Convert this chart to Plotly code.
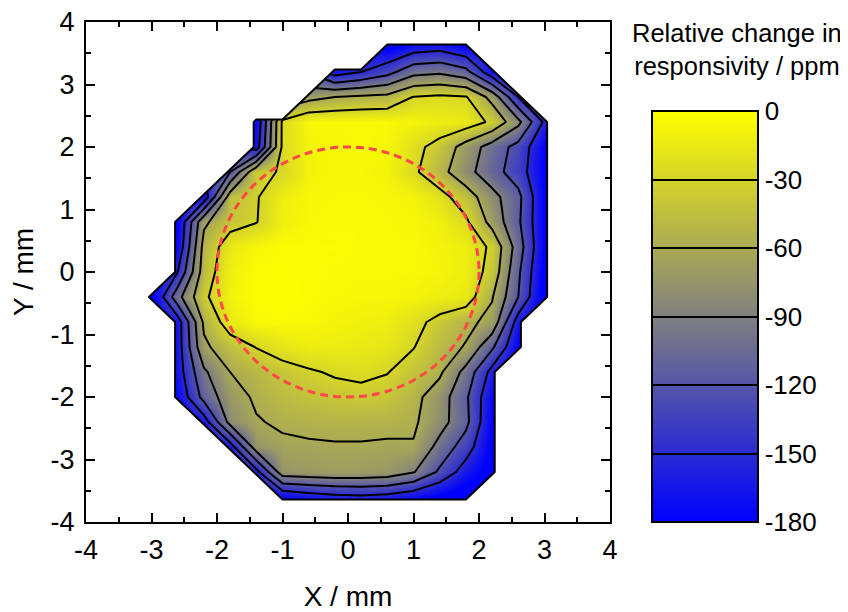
import numpy as np
import plotly.graph_objects as go

# measurement grid (mm)
x_mm = [-3.0, -2.6, -2.2, -1.8, -1.4, -1.0, -0.6, -0.2, 0.2, 0.6, 1.0, 1.4, 1.8, 2.2, 2.6, 3.0]
y_mm = [-3.6, -3.2, -2.8, -2.4, -2.0, -1.6, -1.2, -0.8, -0.4, 0.0, 0.4, 0.8, 1.2, 1.6, 2.0, 2.4, 2.8, 3.2, 3.6]

N = None  # no measurement
# relative change in responsivity / ppm, one row per y value (bottom to top)
z_ppm = [
    [N, N, N, N, N, -175, -165, -158, -155, -160, -170, -185, -195, N, N, N],            # y=-3.6
    [N, N, N, N, -160, -74, -71, -69, -70, -72, -88, -125, -165, -190, N, N],            # y=-3.2
    [N, N, N, -165, -75, -65, -63, -62, -62, -63, -62, -100, -135, -185, N, N],          # y=-2.8
    [N, N, -165, -80, -62, -56, -54, -53, -53, -54, -56, -78, -112, -180, N, N],         # y=-2.4
    [N, -175, -110, -72, -56, -48, -43, -40, -38, -40, -52, -75, -115, -175, N, N],      # y=-2.0
    [N, -165, -95, -60, -50, -40, -33, -27, -24, -29, -42, -55, -100, -160, N, N],       # y=-1.6
    [N, -165, -65, -45, -29, -18, -12, -13, -15, -18, -29, -48, -62, -115, -180, N],     # y=-1.2
    [N, -165, -55, -15, -5, -4, -5, -8, -10, -12, -22, -38, -53, -68, -165, N],          # y=-0.8
    [-190, -100, -35, -8, -2, -1, -3, -5, -6, -6, -8, -12, -15, -58, -120, -190],        # y=-0.4
    [N, -150, -45, -10, -3, -2, -3, -4, -5, -5, -5, -7, -12, -40, -115, -185],           # y= 0.0
    [N, -175, -50, -15, -6, -3, -3, -3, -4, -5, -5, -8, -12, -35, -105, -180],           # y= 0.4
    [N, -180, -65, -40, -31, -10, -5, -4, -4, -5, -6, -10, -25, -70, -115, -180],        # y= 0.8
    [N, N, -170, -45, -32, -12, -6, -5, -5, -6, -8, -20, -45, -80, -112, -180],          # y= 1.2
    [N, N, N, -120, -36, -28, -8, -6, -6, -8, -25, -50, -80, -108, -135, -180],          # y= 1.6
    [N, N, N, N, -165, -25, -8, -6, -5, -6, -22, -40, -72, -103, -130, -178],            # y= 2.0
    [N, N, N, N, -175, -25, -5, -5, -5, -5, -8, -12, -15, -35, -82, -155],               # y= 2.4
    [N, N, N, N, N, N, -70, -60, -55, -52, -29, -25, -28, -70, -150, N],                 # y= 2.8
    [N, N, N, N, N, N, N, -165, -150, -130, -100, -95, -110, -170, N, N],                # y= 3.2
    [N, N, N, N, N, N, N, N, N, -185, -165, -160, -175, N, N, N],                        # y= 3.6
]

cbar_ticks = [0, -30, -60, -90, -120, -150, -180]
level_start, level_end, level_step = -150, -30, 30
z_min, z_max = -180, 0
circle_radius_mm = 2.0
axis_ticks = [-4, -3, -2, -1, 0, 1, 2, 3, 4]

FONT = "Liberation Sans, Arial, sans-serif"

# pad grid with one empty ring so the outline of the measured area closes
dx = x_mm[1] - x_mm[0]
dy = y_mm[1] - y_mm[0]
x_pad = [x_mm[0] - dx] + x_mm + [x_mm[-1] + dx]
y_pad = [y_mm[0] - dy] + y_mm + [y_mm[-1] + dy]
z_arr = np.array([[np.nan if v is None else v for v in row] for row in z_ppm], dtype=float)
z_pad = np.full((len(y_pad), len(x_pad)), np.nan)
z_pad[1:-1, 1:-1] = z_arr
mask = np.where(np.isnan(z_pad), 0.0, 1.0)

# layout geometry (pixels, figure coordinates; page adds an 8 px body margin)
W, H = 840, 604
ml, mt = 78, 14
pw, ph = 524, 500
mr, mb = W - ml - pw, H - mt - ph
cb_left, cb_top, cb_bottom, cb_w = 644, 103, 514, 106
title_cx = 729

fig = go.Figure()
fig.add_trace(go.Contour(
    x=x_pad, y=y_pad, z=z_pad,
    zmin=z_min, zmax=z_max, zauto=False,
    colorscale=[[0, "rgb(0,0,255)"], [1, "rgb(255,255,0)"]],
    autocontour=False,
    contours=dict(start=level_start, end=level_end, size=level_step,
                  coloring="heatmap", showlines=True),
    line=dict(color="black", width=2, smoothing=0),
    connectgaps=False,
    hoverinfo="skip",
    colorbar=dict(
        x=(cb_left - ml) / pw, xanchor="left",
        y=(mt + ph - cb_top) / ph, yanchor="top",
        len=cb_bottom - cb_top, lenmode="pixels",
        thickness=cb_w, thicknessmode="pixels",
        xpad=0, ypad=0,
        outlinewidth=2, outlinecolor="black",
        tickmode="array", tickvals=cbar_ticks, ticktext=[str(t) for t in cbar_ticks],
        ticks="", tickfont=dict(family=FONT, size=26, color="black"),
    ),
))
fig.add_trace(go.Contour(
    x=x_pad, y=y_pad, z=mask, showscale=False, autocontour=False,
    contours=dict(start=0.9, end=0.9, size=1, coloring="none", showlines=True),
    line=dict(color="black", width=2, smoothing=0),
    hoverinfo="skip",
))

fig.add_shape(type="circle", xref="x", yref="y",
              x0=-circle_radius_mm, x1=circle_radius_mm,
              y0=-circle_radius_mm, y1=circle_radius_mm,
              line=dict(color="rgb(255,72,72)", width=3, dash="8px,5px"))

fig.add_annotation(text="Relative change in<br>responsivity / ppm",
                   xref="paper", yref="paper", x=(title_cx - ml) / pw, y=1.0,
                   xanchor="center", yanchor="top", showarrow=False, yshift=5,
                   font=dict(family=FONT, size=25.5, color="black"))

axis_common = dict(
    range=[-4, 4], tickmode="array", tickvals=axis_ticks,
    ticktext=[str(t) for t in axis_ticks],
    ticks="inside", ticklen=9, tickwidth=2, tickcolor="black",
    showline=True, linewidth=2, linecolor="black", mirror="allticks",
    showgrid=False, zeroline=False, ticklabeloverflow="allow",
    automargin=False,
    minor=dict(dtick=0.5, tick0=0, ticks="inside", ticklen=5, tickwidth=2,
               tickcolor="black", showgrid=False),
    tickfont=dict(family=FONT, size=27, color="black"),
)
fig.update_layout(
    width=W, height=H,
    margin=dict(l=ml, r=mr, t=mt, b=mb, autoexpand=False),
    paper_bgcolor="white", plot_bgcolor="white",
    font=dict(family=FONT, size=26, color="black"),
    xaxis=dict(axis_common, title=dict(text="X / mm", standoff=29,
                                       font=dict(family=FONT, size=28)),
               ticklabelstandoff=3),
    yaxis=dict(axis_common, title=dict(text="Y / mm", standoff=18,
                                       font=dict(family=FONT, size=28)),
               ticklabelstandoff=4),
    showlegend=False,
)

fig.write_html("out.html")
